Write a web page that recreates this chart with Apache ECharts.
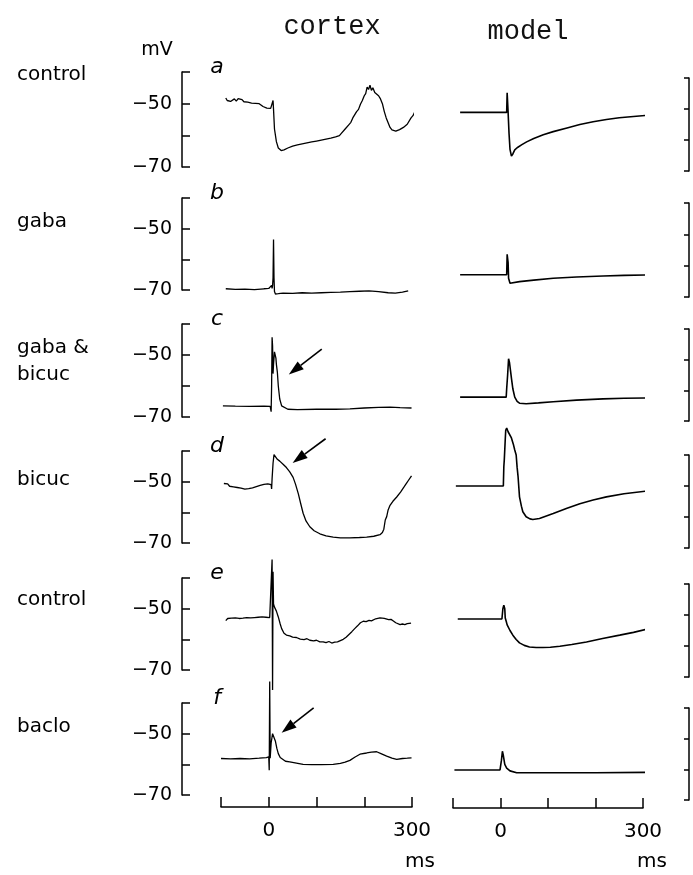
<!DOCTYPE html>
<html>
<head>
<meta charset="utf-8">
<script type="text/javascript" src="https://cdn.jsdelivr.net/npm/echarts@6/dist/echarts.min.js"></script>
<style>
  html, body { margin: 0; padding: 0; background: #fff; }
</style>
</head>
<body>
<div id="main" style="width: 693px;height:875px;"></div>
<script type="text/javascript">

    // traces: [time ms, membrane potential mV]
    var cortexA = [[-90,-48.2],[-87,-49.0],[-84,-48.6],[-80,-49.3],[-76,-48.8],[-72,-48.5],[-68,-49.2],[-64,-48.4],[-60,-49.0],[-56,-48.7],[-52,-49.4],[-48,-48.9],[-44,-49.5],[-40,-49.1],[-36,-49.8],[-32,-49.3],[-28,-49.9],[-24,-50.3],[-20,-50.0],[-16,-50.6],[-12,-50.9],[-8,-51.0],[-4,-51.4],[0,-51.2],[4,-51.5],[8,-51.3],[9,-49.0],[10,-51.8],[12,-58],[16,-62],[20,-64],[26,-64.8],[32,-64.6],[40,-64.0],[50,-63.4],[60,-63.0],[70,-62.7],[80,-62.4],[90,-62.1],[100,-61.8],[110,-61.5],[120,-61.2],[130,-60.9],[140,-60.5],[148,-60.1],[152,-59.4],[156,-59.0],[160,-58.0],[164,-57.5],[168,-56.6],[172,-55.9],[176,-54.5],[180,-54.0],[184,-52.5],[188,-51.8],[192,-50.2],[196,-49.0],[200,-47.5],[203,-46.8],[206,-44.8],[209,-45.5],[212,-44.2],[215,-45.8],[218,-45.0],[222,-46.5],[226,-46.2],[230,-47.5],[234,-48.5],[238,-50.0],[242,-52.5],[246,-54.5],[250,-56.0],[254,-57.5],[258,-58.3],[262,-58.8],[266,-58.7],[270,-58.9],[274,-58.2],[278,-58.6],[282,-57.5],[286,-57.8],[290,-56.5],[294,-56.0],[298,-54.5],[302,-53.8],[306,-52.5]];
    var cortexB = [[-90,-69.6],[-70,-69.8],[-50,-69.7],[-30,-69.9],[-10,-69.6],[0,-69.5],[4,-69.3],[6,-68.5],[7,-69.5],[8,-68.6],[9,-66.0],[10,-53.5],[11,-66],[12,-70.5],[14,-71.3],[20,-71.2],[30,-71.0],[50,-71.1],[70,-70.9],[90,-71.0],[110,-70.9],[130,-70.8],[150,-70.7],[170,-70.5],[190,-70.4],[210,-70.3],[230,-70.5],[250,-70.9],[265,-71.0],[280,-70.7],[292,-70.3]];
    var cortexC = [[-96,-66.4],[-70,-66.5],[-40,-66.6],[-10,-66.5],[3,-66.6],[5,-68.3],[6,-60],[7,-44.3],[8,-47],[9,-56],[10,-53],[12,-49],[14,-48.6],[15,-51],[16,-53],[18,-55.5],[20,-60],[23,-64.2],[27,-66.4],[30,-67.0],[40,-67.5],[60,-67.6],[100,-67.5],[140,-67.5],[170,-67.4],[200,-67.1],[230,-66.9],[254,-66.8],[275,-67.0],[299,-67.1]];
    var cortexD = [[-94,-50.6],[-90,-51.2],[-86,-50.7],[-82,-51.5],[-78,-51.0],[-74,-51.7],[-70,-51.3],[-66,-51.9],[-62,-51.6],[-58,-52.1],[-54,-51.8],[-50,-52.4],[-46,-52.0],[-42,-52.3],[-38,-51.7],[-34,-52.0],[-30,-51.4],[-26,-51.6],[-22,-51.0],[-18,-51.2],[-14,-50.6],[-10,-50.9],[-6,-50.3],[-2,-50.7],[2,-50.2],[5,-51.0],[6,-52.4],[7,-49],[9,-44],[11,-41.2],[14,-41.8],[18,-42.7],[23,-43.3],[30,-44.3],[37,-45.4],[44,-46.8],[51,-48.6],[56,-50.8],[62,-54],[67,-57.2],[72,-60.3],[78,-62.8],[86,-64.7],[95,-66.0],[107,-67.0],[120,-67.7],[135,-68.1],[150,-68.3],[170,-68.3],[190,-68.2],[205,-68.1],[220,-67.8],[233,-67.3],[238,-66.6],[241,-65.5],[244,-62.5],[247,-61.4],[250,-59.2],[252,-59.8],[254,-57.7],[257,-58.2],[260,-56.4],[264,-56.8],[268,-55.0],[272,-55.4],[276,-53.4],[280,-53.0],[283,-51.8],[286,-52.3],[289,-50.4],[292,-49.7],[295,-50.1],[299,-48.1]];
    var cortexE = [[-90,-53.9],[-86,-53.2],[-82,-53.6],[-78,-53.1],[-74,-53.5],[-70,-53.0],[-66,-53.4],[-62,-53.2],[-58,-53.6],[-54,-53.1],[-50,-53.4],[-46,-52.9],[-42,-53.3],[-38,-53.0],[-34,-53.4],[-30,-52.9],[-26,-53.2],[-22,-52.8],[-18,-53.1],[-14,-52.7],[-10,-53.0],[-6,-52.8],[-2,-52.6],[2,-52.9],[6,-52.5],[7,-34],[8,-76.5],[9,-38],[10,-48.5],[12,-49.5],[16,-50.8],[20,-52.7],[24,-55],[27,-56.5],[32,-58],[37,-58.6],[44,-58.9],[50,-59.3],[58,-59.4],[66,-59.9],[74,-60.1],[80,-59.8],[86,-60.3],[94,-60.5],[100,-60.3],[107,-60.8],[114,-60.8],[120,-61.1],[126,-60.7],[132,-61.2],[138,-60.9],[144,-60.8],[150,-60.4],[156,-60.0],[162,-59.3],[168,-58.4],[174,-57.5],[180,-56.5],[186,-55.6],[192,-54.6],[198,-54.1],[204,-54.2],[210,-53.8],[215,-54.0],[219,-53.6],[224,-53.3],[228,-53.6],[233,-53.0],[237,-52.9],[242,-53.2],[246,-53.2],[251,-53.6],[256,-53.5],[261,-54.0],[266,-54.6],[270,-54.9],[275,-55.2],[280,-55.0],[285,-55.2],[290,-54.9],[294,-55.1],[298,-54.7]];
    var cortexF = [[-100,-58.1],[-80,-58.2],[-60,-58.1],[-40,-58.2],[-20,-58.0],[-5,-57.8],[0,-57.6],[1,-61.9],[2,-33],[3,-58],[5,-53],[8,-50.0],[11,-50.5],[14,-52.5],[17,-54.8],[20,-56.5],[24,-57.8],[27,-58.4],[35,-59.0],[44,-59.2],[58,-59.6],[72,-60.0],[90,-60.1],[110,-60.1],[135,-60.0],[150,-59.7],[160,-59.3],[170,-58.7],[180,-57.7],[191,-56.7],[205,-56.3],[215,-56.0],[226,-55.9],[235,-56.5],[247,-57.3],[258,-58.0],[268,-58.4],[280,-58.1],[290,-58.0],[299,-57.9]];

    var modelA = [[-85,-51.1],[13,-51.1],[14,-44.8],[15,-44.8],[16,-51],[18,-58],[20,-63],[23,-65.2],[26,-64.5],[30,-63.2],[35,-62.5],[45,-61.5],[55,-60.6],[70,-59.5],[90,-58.3],[111,-57.3],[140,-56.1],[167,-55.0],[195,-54.1],[223,-53.4],[250,-52.8],[280,-52.4],[305,-52.1]];
    var modelB = [[-85,-62.9],[13,-62.9],[14,-56.4],[15,-57],[16,-59],[17,-64],[20,-65.6],[40,-65.1],[70,-64.6],[111,-64.0],[160,-63.6],[216,-63.3],[260,-63.1],[305,-63.0]];
    var modelC = [[-85,-62.2],[12,-62.2],[13,-59.5],[15,-55],[17,-49.7],[19,-51],[21,-53.5],[23,-56],[26,-59.5],[30,-62.2],[35,-63.6],[40,-64.2],[54,-64.4],[80,-64.1],[111,-63.7],[160,-63.2],[216,-62.8],[260,-62.6],[305,-62.5]];
    var modelD = [[-94,-50.0],[6,-50.0],[7,-43.8],[8,-41.5],[10,-35],[11,-32],[13,-31.3],[16,-32.5],[19,-33.0],[23,-34.5],[27,-36.5],[30,-38.4],[33,-40],[35,-44],[37,-47],[40,-53.5],[44,-56.5],[47,-58.3],[54,-59.9],[62,-60.6],[68,-60.8],[82,-60.5],[111,-58.9],[140,-57.2],[167,-55.7],[195,-54.5],[223,-53.5],[260,-52.5],[305,-51.7]];
    var modelE = [[-90,-51.3],[3,-51.3],[5,-48],[7,-46.8],[9,-48],[10,-51],[12,-52],[14,-53.2],[20,-55],[26,-56.5],[33,-57.9],[40,-59.0],[50,-59.8],[61,-60.3],[75,-60.5],[89,-60.5],[105,-60.4],[125,-60.1],[150,-59.5],[181,-58.7],[215,-57.6],[251,-56.5],[280,-55.6],[308,-54.6]];
    var modelF = [[-97,-60.2],[-1,-60.2],[2,-57],[4,-54.1],[6,-55.5],[9,-58.4],[13,-59.6],[20,-60.5],[34,-61.1],[100,-61.1],[200,-61.1],[305,-61.0]];

    var cortexTraces = [cortexA, cortexB, cortexC, cortexD, cortexE, cortexF];
    var modelTraces = [modelA, modelB, modelC, modelD, modelE, modelF];
    var panelLetters = ['a', 'b', 'c', 'd', 'e', 'f'];
    var rowLabels = [['control'], ['gaba'], ['gaba &', 'bicuc'], ['bicuc'], ['control'], ['baclo']];
    var yTickLabels = {'-50': '\u221250', '-70': '\u221270'};
    var xTickLabels = {'0': '0', '300': '300'};

    // arrows: [row, from [t, mV], to [t, mV]] on cortex panels
    var arrows = [
        [2, [111, -48.1], [42, -56.3]],
        [3, [119, -36.0], [50, -43.9]],
        [5, [94, -41.6], [27, -49.7]]
    ];

    // layout (pixels)
    var leftTop = [72, 198, 324, 451, 578, 703];
    var leftBottom = [167, 290, 417, 543, 670, 795];
    var rightTop = [78, 203, 329, 455, 584, 708];
    var rightBottom = [171, 297, 421, 548, 677, 800];

    var myChart = echarts.init(document.getElementById('main'));

    var grids = [], xAxes = [], yAxes = [], series = [];
    var axisLine = {show: true, onZero: false, lineStyle: {color: '#000', width: 1.5}};

    function addPanel(g, top, bottom, isModel, isLast, data) {
        grids.push({
            left: isModel ? 453 : 221,
            right: isModel ? 50 : 281,
            top: top,
            height: bottom - top
        });
        xAxes.push({
            gridIndex: g, type: 'value', min: -100, max: 300, interval: 100,
            show: isLast, position: 'bottom', offset: isModel ? 8 : 12,
            axisLine: axisLine,
            axisTick: {inside: true, length: 10, lineStyle: {color: '#000', width: 1.5}},
            axisLabel: {
                margin: 14, color: '#000', fontSize: 20, fontFamily: 'DejaVu Sans',
                formatter: function (v) { return xTickLabels[v] || ''; }
            },
            splitLine: {show: false}
        });
        yAxes.push({
            gridIndex: g, type: 'value', min: -70, max: -40, interval: 10,
            position: isModel ? 'right' : 'left', offset: isModel ? 46 : 39,
            axisLine: axisLine,
            axisTick: {inside: true, length: isModel ? 5 : 8, lineStyle: {color: '#000', width: 1.5}},
            axisLabel: {
                show: !isModel, margin: 10, color: '#000', fontSize: 19, fontFamily: 'DejaVu Sans',
                formatter: function (v) { return yTickLabels[v] || ''; }
            },
            splitLine: {show: false}
        });
        series.push({
            type: 'line', xAxisIndex: g, yAxisIndex: g, data: data,
            symbol: 'none', clip: false, animation: false, silent: true,
            lineStyle: {color: '#000', width: isModel ? 1.6 : 1.3}
        });
    }

    for (var i = 0; i < 6; i++) {
        addPanel(i, leftTop[i], leftBottom[i], false, i === 5, cortexTraces[i]);
    }
    for (var j = 0; j < 6; j++) {
        addPanel(6 + j, rightTop[j], rightBottom[j], true, j === 5, modelTraces[j]);
    }

    myChart.setOption({
        animation: false,
        grid: grids,
        xAxis: xAxes,
        yAxis: yAxes,
        series: series
    });

    var textFont = 'DejaVu Sans';
    var graphics = [];
    function addText(x, y, text, size, opts) {
        opts = opts || {};
        graphics.push({
            type: 'text', x: x, y: y, silent: true,
            style: {
                text: text, fill: opts.fill || '#000', fontSize: size,
                fontFamily: opts.family || textFont,
                fontStyle: opts.style || 'normal',
                align: opts.align || 'left', verticalAlign: 'middle'
            }
        });
    }

    addText(332, 27, 'cortex', 27, {family: 'Liberation Mono', align: 'center', fill: '#111'});
    addText(528, 32, 'model', 27, {family: 'Liberation Mono', align: 'center', fill: '#111'});
    addText(157, 50, 'mV', 19, {align: 'center'});

    var rowLabelY = [75, 222, 348, 480, 600, 727];
    for (var r = 0; r < 6; r++) {
        for (var k = 0; k < rowLabels[r].length; k++) {
            addText(17, rowLabelY[r] + k * 27, rowLabels[r][k], 20);
        }
        var ly = leftTop[r] - 5;
        addText(217, ly, panelLetters[r], 22, {style: 'italic', align: 'center'});
    }
    addText(420, 862, 'ms', 20, {align: 'center'});
    addText(652, 862, 'ms', 20, {align: 'center'});

    // arrows placed through the cortex panel scales
    arrows.forEach(function (a) {
        var p0 = myChart.convertToPixel({gridIndex: a[0]}, a[1]);
        var p1 = myChart.convertToPixel({gridIndex: a[0]}, a[2]);
        var dx = p1[0] - p0[0], dy = p1[1] - p0[1];
        var len = Math.sqrt(dx * dx + dy * dy);
        var ux = dx / len, uy = dy / len;
        var bx = p1[0] - ux * 15, by = p1[1] - uy * 15;
        graphics.push({
            type: 'line', silent: true,
            shape: {x1: p0[0], y1: p0[1], x2: bx, y2: by},
            style: {stroke: '#000', lineWidth: 1.6}
        });
        graphics.push({
            type: 'polygon', silent: true,
            shape: {points: [[p1[0], p1[1]], [bx - uy * 5, by + ux * 5], [bx + uy * 5, by - ux * 5]]},
            style: {fill: '#000'}
        });
    });

    myChart.setOption({graphic: graphics});

</script>
</body>
</html>
